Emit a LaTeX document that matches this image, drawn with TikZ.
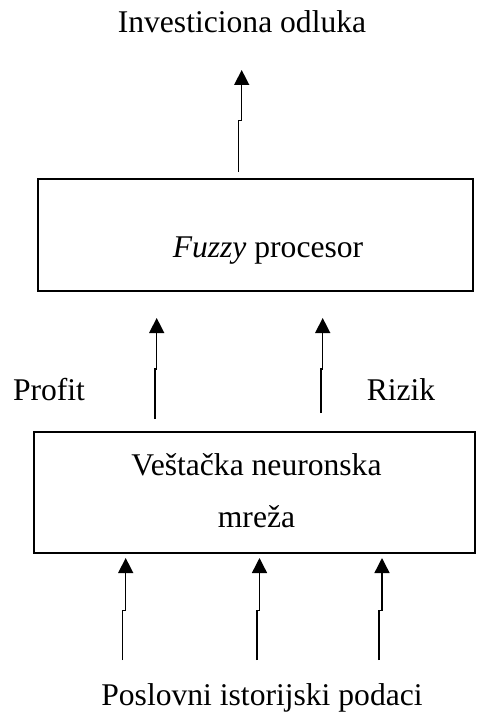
\documentclass[tikz,border=0pt]{standalone}
\usepackage{fontspec}
\setmainfont{Liberation Serif}
\usetikzlibrary{arrows.meta}
\begin{document}
\begin{tikzpicture}[x=1pt,y=-1pt,
  every node/.style={font=\fontsize{31.6}{38}\selectfont, inner sep=0pt},
  blok/.style={draw, line width=1.6pt, rectangle},
  lbl/.style={anchor=base},
  strelica/.style={line width=1.4pt, -{Triangle[width=15pt,length=15pt]}}]
  \useasboundingbox (0,0) rectangle (481,714);

  % boxes
  \node[blok, minimum width=435pt, minimum height=112pt] (fz) at (255.5,235) {};
  \node[blok, minimum width=441pt, minimum height=121pt] (nm) at (254.5,492.5) {};

  % texts
  \node[lbl] (izlaz) at (242,33) {Investiciona odluka};
  \node[lbl] (fztxt) at (268,257) {\textit{Fuzzy} procesor};
  \node[lbl] (nm1) at (256.5,475) {Veštačka neuronska};
  \node[lbl] (nm2) at (256.5,527) {mreža};
  \node[lbl] (profit) at (49,400) {Profit};
  \node[lbl] (rizik) at (401,400) {Rizik};
  \node[lbl] (ulaz) at (262,705) {Poslovni istorijski podaci};

  % connector end points
  \coordinate (a0) at (238.3,172);
  \coordinate (a1) at (241.7,70);
  \coordinate (p0) at (155,419);
  \coordinate (p1) at (156.7,318);
  \coordinate (r0) at (321,413);
  \coordinate (r1) at (322.7,318);
  \coordinate (u10) at (122.7,660);
  \coordinate (u11) at (125.7,558);
  \coordinate (u20) at (257,660);
  \coordinate (u21) at (259.5,558);
  \coordinate (u30) at (379,660);
  \coordinate (u31) at (382,558);

  % arrows with a small jog
  \draw[strelica] (a0) -- (a0 |- 0,120.7) -- (a1 |- 0,120.7) -- (a1);
  \draw[strelica] (p0) -- (p0 |- 0,369) -- (p1 |- 0,369) -- (p1);
  \draw[strelica] (r0) -- (r0 |- 0,369) -- (r1 |- 0,369) -- (r1);
  \draw[strelica] (u10) -- (u10 |- 0,610.7) -- (u11 |- 0,610.7) -- (u11);
  \draw[strelica] (u20) -- (u20 |- 0,610.7) -- (u21 |- 0,610.7) -- (u21);
  \draw[strelica] (u30) -- (u30 |- 0,610.7) -- (u31 |- 0,610.7) -- (u31);
\end{tikzpicture}
\end{document}
